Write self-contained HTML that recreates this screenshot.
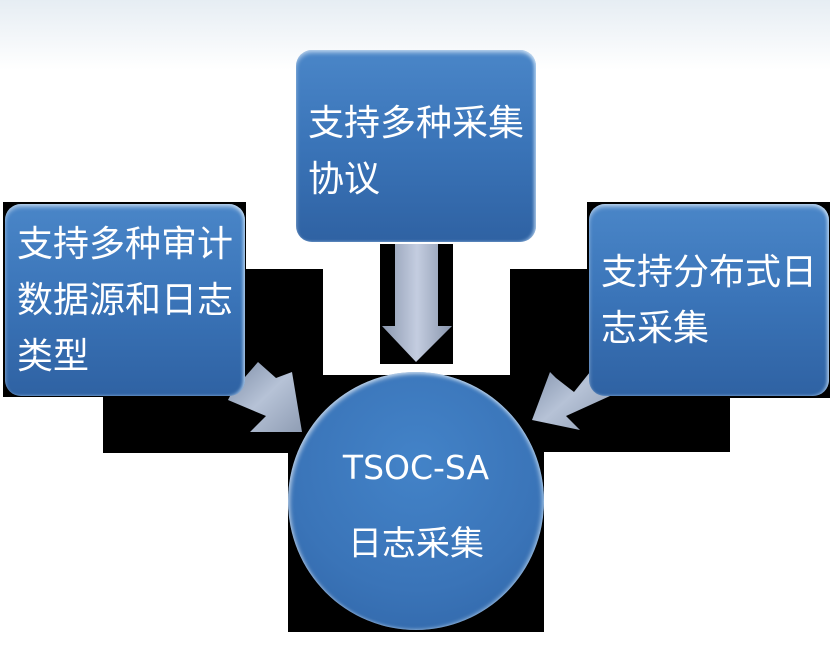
<!DOCTYPE html>
<html><head><meta charset="utf-8"><style>
html,body{margin:0;padding:0}
body{width:830px;height:670px;position:relative;overflow:hidden;background:linear-gradient(180deg,#e6edf3 0px,#ffffff 70px,#ffffff 100%);font-family:"Liberation Sans","Noto Sans CJK SC",sans-serif}
.blk{position:absolute;background:#000}
.box{position:absolute;border-radius:16px;background:linear-gradient(180deg,#4a86c8 0%,#3a74b8 50%,#2f62a3 100%);box-shadow:inset 0 3px 4px rgba(255,255,255,.5),inset -2px 0 3px rgba(200,230,255,.6);color:#fff;font-size:36px;line-height:56px;box-sizing:border-box;padding-left:12px}
.circ{position:absolute;border-radius:50%;background:radial-gradient(circle at 50% 35%,#4383c8 0%,#3a74b8 60%,#2f64a6 100%);box-shadow:inset 2px 2px 4px rgba(255,255,255,.6),inset -2px 0 4px rgba(220,240,255,.6);color:#fff;text-align:center}
</style></head><body>
<div class="blk" style="left:3px;top:202px;width:243px;height:195px"></div>
<div class="blk" style="left:103px;top:269px;width:220px;height:184px"></div>
<div class="blk" style="left:587px;top:202px;width:243px;height:196px"></div>
<div class="blk" style="left:510px;top:269px;width:220px;height:183px"></div>
<div class="blk" style="left:380px;top:244px;width:73px;height:120px"></div>
<div class="blk" style="left:323px;top:375px;width:187px;height:77px"></div>
<div class="blk" style="left:288px;top:451px;width:256px;height:181px"></div>

<svg width="830" height="670" style="position:absolute;left:0;top:0">
<defs><linearGradient id="ag" x1="0" y1="0" x2="1" y2="1"><stop offset="0" stop-color="#7e8ea8"/><stop offset=".5" stop-color="#b6c2d6"/><stop offset="1" stop-color="#8f9db4"/></linearGradient>
<linearGradient id="av" x1="0" y1="0" x2="1" y2="0"><stop offset="0" stop-color="#8a97ae"/><stop offset=".5" stop-color="#c4cde0"/><stop offset="1" stop-color="#8895ac"/></linearGradient></defs>
<polygon points="395,244 438,244 438,326 452,326 416,362 382,326 395,326" fill="url(#av)"/>
<polygon points="232,392 258,362 276,378 292,372 302,432 250,432 266,416 228,400" fill="url(#ag)"/>
<polygon points="598,362 574,392 556,378 550,372 532,420 580,430 566,416 610,396" fill="url(#ag)"/>
</svg>

<div class="box" style="left:296px;top:50px;width:240px;height:192px;padding-top:45px">支持多种采集<br>协议</div>
<div class="box" style="left:5px;top:204px;width:240px;height:192px;padding-top:12px">支持多种审计<br>数据源和日志<br>类型</div>
<div class="box" style="left:589px;top:204px;width:240px;height:192px;padding-top:40px">支持分布式日<br>志采集</div>
<div class="circ" style="left:288px;top:372px;width:256px;height:258px">
<div style="position:absolute;left:0;right:0;top:76px;font-size:33px;font-family:'DejaVu Sans','Liberation Sans',sans-serif">TSOC-SA</div>
<div style="position:absolute;left:0;right:0;top:144px;font-size:34px">日志采集</div>
</div>
</body></html>
